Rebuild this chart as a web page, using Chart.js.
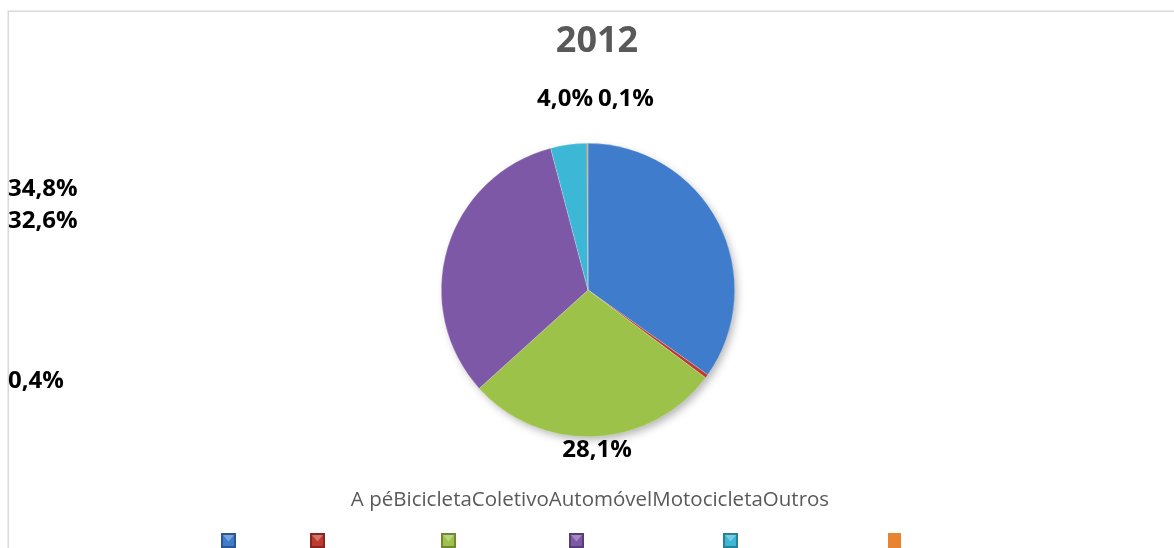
<!DOCTYPE html>
<html>
<head>
<meta charset="utf-8">
<script src="https://cdn.jsdelivr.net/npm/chart.js@4/dist/chart.umd.min.js"></script>
<style>
  html, body { margin: 0; padding: 0; background: #ffffff; }
  #wrap { width: 1174px; height: 548px; position: relative; }
</style>
</head>
<body>
<div id="wrap"><canvas id="c" width="1174" height="548"></canvas></div>
<script>
// Modal split of trips, 2012
const chartTitle = '2012';
const categories = ['A pé', 'Bicicleta', 'Coletivo', 'Automóvel', 'Motocicleta', 'Outros'];
const shares = [34.8, 0.4, 28.1, 32.6, 4.0, 0.1];
const sliceColors = ['#3f7ccb', '#c0392f', '#9dc24a', '#7d58a6', '#3db7d6', '#e8842f'];

const fmtPct = v => v.toFixed(1).replace('.', ',') + '%';

function shade(hex, f) {
  const n = parseInt(hex.slice(1), 16);
  let r = (n >> 16) & 255, g = (n >> 8) & 255, b = n & 255;
  const m = c => Math.max(0, Math.min(255, Math.round(f >= 0 ? c + (255 - c) * f : c * (1 + f))));
  return `rgb(${m(r)},${m(g)},${m(b)})`;
}

// Soft bevel: lighter toward the middle, darker rim
function sliceFill(ctx) {
  const chart = ctx.chart;
  const base = sliceColors[ctx.dataIndex];
  const meta = chart.getDatasetMeta(0);
  const arc = meta.data[ctx.dataIndex];
  if (!arc || !chart.chartArea) return base;
  const { x, y, outerRadius } = arc.getProps(['x', 'y', 'outerRadius'], true);
  if (!outerRadius) return base;
  const g = chart.ctx.createRadialGradient(x, y, 0, x, y, outerRadius);
  g.addColorStop(0, shade(base, 0.06));
  g.addColorStop(0.86, base);
  g.addColorStop(0.95, shade(base, -0.12));
  g.addColorStop(1, shade(base, -0.25));
  return g;
}

// Frame, pie shadow, title, value labels and legend row
const decor = {
  id: 'decor',
  beforeDraw(chart) {
    const c = chart.ctx;
    c.save();
    c.fillStyle = '#ffffff';
    c.fillRect(0, 0, chart.width, chart.height);
    c.strokeStyle = '#d9d9d9';
    c.lineWidth = 1.5;
    c.beginPath();
    c.moveTo(8.25, chart.height);
    c.lineTo(8.25, 11.25);
    c.lineTo(chart.width, 11.25);
    c.stroke();
    c.restore();
  },
  beforeDatasetsDraw(chart) {
    const arc = chart.getDatasetMeta(0).data[0];
    if (!arc) return;
    const c = chart.ctx;
    c.save();
    c.shadowColor = 'rgba(0,0,0,0.3)';
    c.shadowBlur = 8;
    c.shadowOffsetX = 3;
    c.shadowOffsetY = 4;
    c.fillStyle = '#ffffff';
    c.beginPath();
    c.arc(arc.x, arc.y, arc.outerRadius - 1, 0, Math.PI * 2);
    c.fill();
    c.restore();
  },
  afterDraw(chart) {
    const c = chart.ctx;
    c.save();
    // title
    c.fillStyle = '#595959';
    c.font = 'bold 36px "Open Sans"';
    c.textAlign = 'center';
    c.textBaseline = 'middle';
    c.fillText(chartTitle, 597, 42);

    // value labels
    c.fillStyle = '#000000';
    c.font = 'bold 24px "Open Sans"';
    c.textBaseline = 'middle';
    const spots = [
      { align: 'left', x: 8, y: 189 },
      { align: 'left', x: 8, y: 381 },
      { align: 'center', x: 597, y: 450 },
      { align: 'left', x: 8, y: 221 },
      { align: 'right', x: 593, y: 99 },
      { align: 'left', x: 598, y: 99 }
    ];
    shares.forEach((v, i) => {
      const s = spots[i];
      c.textAlign = s.align;
      c.fillText(fmtPct(v), s.x, s.y);
    });

    // legend: names run together on one line, keys on the row below
    c.fillStyle = '#595959';
    c.font = '20.5px "Open Sans"';
    c.textAlign = 'center';
    c.textBaseline = 'alphabetic';
    c.fillText(categories.join(''), 590, 506);

    const keyX = [221, 310, 441, 569, 723, 888];
    const top = 533, sz = 15;
    categories.forEach((_, i) => {
      const base = sliceColors[i];
      const x = keyX[i];
      if (i === categories.length - 1) {
        c.fillStyle = base;
        c.fillRect(x, top, sz - 2, sz);
        return;
      }
      c.fillStyle = shade(base, -0.3);
      c.fillRect(x, top, sz, sz);
      c.fillStyle = base;
      c.fillRect(x + 2, top + 2, sz - 4, sz - 4);
      c.fillStyle = shade(base, 0.3);
      c.beginPath();
      c.moveTo(x + 2, top + 2);
      c.lineTo(x + sz - 2, top + 2);
      c.lineTo(x + sz / 2, top + sz / 2 + 1);
      c.closePath();
      c.fill();
    });
    c.restore();
  }
};

new Chart(document.getElementById('c'), {
  type: 'pie',
  data: {
    labels: categories,
    datasets: [{
      data: shares,
      backgroundColor: sliceFill,
      borderWidth: 0.6,
      borderColor: 'rgba(255,255,255,0.35)'
    }]
  },
  options: {
    responsive: false,
    devicePixelRatio: 1,
    animation: false,
    layout: { padding: { top: 143, bottom: 111, left: 2, right: 0 } },
    plugins: {
      legend: { display: false },
      title: { display: false },
      tooltip: { enabled: false }
    }
  },
  plugins: [decor]
});
</script>
</body>
</html>
